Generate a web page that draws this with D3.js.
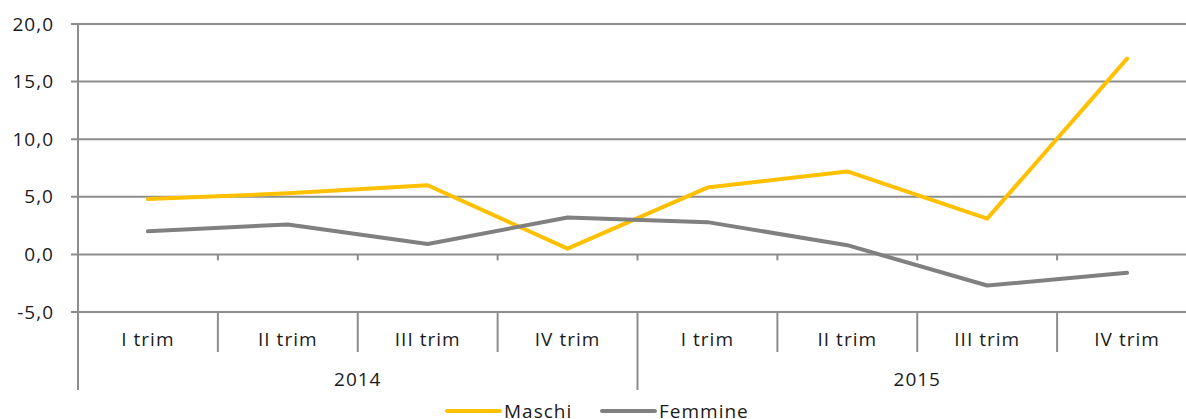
<!DOCTYPE html>
<html>
<head>
<meta charset="utf-8">
<script src="https://cdn.jsdelivr.net/npm/d3@7"></script>
<style>
  body { margin: 0; background: #fff; }
  svg { display: block; font-family: "Open Sans", sans-serif; }
  svg text { font-size: 19px; letter-spacing: 1px; fill: #1a1a1a; }
</style>
</head>
<body>
<svg id="chart" width="1186" height="419"></svg>
<script>
// dati
var quarters = ["I trim", "II trim", "III trim", "IV trim", "I trim", "II trim", "III trim", "IV trim"];
var years = ["2014", "2015"];
var maschi = [4.8, 5.3, 6.0, 0.5, 5.8, 7.2, 3.1, 17.0];
var femmine = [2.0, 2.6, 0.9, 3.2, 2.8, 0.8, -2.7, -1.6];
var yTicks = [-5, 0, 5, 10, 15, 20];

var series = [
  { name: "Maschi", values: maschi, color: "#ffc000" },
  { name: "Femmine", values: femmine, color: "#808080" }
];

var svg = d3.select("#chart");
var mLeft = 78, mRight = 1197, mTop = 24, mBottom = 312;
var gridColor = "#8c8c8c";

var x = d3.scaleBand()
  .domain(d3.range(quarters.length))
  .range([mLeft, mRight]);

var y = d3.scaleLinear()
  .domain([-5, 20])
  .range([mBottom, mTop]);

// formato italiano: virgola decimale, trattino semplice per il meno
var fmt = function (d) { return d3.format(".1f")(d).replace(".", ",").replace("\u2212", "-"); };

// griglia orizzontale
svg.append("g").selectAll("line")
  .data(yTicks)
  .enter().append("line")
  .attr("x1", mLeft - 7)
  .attr("x2", mRight)
  .attr("y1", function (d) { return y(d); })
  .attr("y2", function (d) { return y(d); })
  .attr("stroke", gridColor)
  .attr("stroke-width", 2);

// asse y
var yAxis = svg.append("g")
  .attr("transform", "translate(" + mLeft + ",0)")
  .call(d3.axisLeft(y).tickValues(yTicks).tickFormat(fmt).tickSize(0).tickPadding(24));
yAxis.select(".domain").remove();
yAxis.attr("font-size", null).attr("font-family", null);

// linea verticale dell'asse y fino sotto le etichette degli anni
svg.append("line")
  .attr("x1", mLeft).attr("x2", mLeft)
  .attr("y1", mTop).attr("y2", 390)
  .attr("stroke", gridColor).attr("stroke-width", 2);

// tacche sullo zero
svg.append("g").selectAll("line")
  .data(d3.range(1, quarters.length))
  .enter().append("line")
  .attr("x1", function (i) { return x(i); })
  .attr("x2", function (i) { return x(i); })
  .attr("y1", y(0))
  .attr("y2", y(0) + 6)
  .attr("stroke", gridColor).attr("stroke-width", 2);

// separatori di categoria sotto l'asse
svg.append("g").selectAll("line")
  .data(d3.range(1, quarters.length + 1))
  .enter().append("line")
  .attr("x1", function (i) { return i < quarters.length ? x(i) : mRight; })
  .attr("x2", function (i) { return i < quarters.length ? x(i) : mRight; })
  .attr("y1", mBottom)
  .attr("y2", function (i) { return i % 4 === 0 ? 390 : 352; })
  .attr("stroke", gridColor).attr("stroke-width", 2);

// etichette trimestri
svg.append("g").selectAll("text")
  .data(quarters)
  .enter().append("text")
  .attr("x", function (d, i) { return x(i) + x.bandwidth() / 2; })
  .attr("y", 339)
  .attr("dy", "0.35em")
  .attr("text-anchor", "middle")
  .text(function (d) { return d; });

// etichette anni
svg.append("g").selectAll("text")
  .data(years)
  .enter().append("text")
  .attr("x", function (d, i) { return (x(i * 4) + (i === 1 ? mRight : x(4))) / 2; })
  .attr("y", 379)
  .attr("dy", "0.35em")
  .attr("text-anchor", "middle")
  .text(function (d) { return d; });

// linee
var line = d3.line()
  .x(function (d, i) { return x(i) + x.bandwidth() / 2; })
  .y(function (d) { return y(d); });

svg.append("g").selectAll("path")
  .data(series)
  .enter().append("path")
  .attr("d", function (s) { return line(s.values); })
  .attr("fill", "none")
  .attr("stroke", function (s) { return s.color; })
  .attr("stroke-width", 4)
  .attr("stroke-linejoin", "round")
  .attr("stroke-linecap", "round");

// legenda
var legendX = [447, 602];
var legend = svg.append("g").selectAll("g")
  .data(series)
  .enter().append("g")
  .attr("transform", function (d, i) { return "translate(" + legendX[i] + ",411)"; });

legend.append("line")
  .attr("x1", 0).attr("x2", 53)
  .attr("stroke", function (d) { return d.color; })
  .attr("stroke-width", 4)
  .attr("stroke-linecap", "round");

legend.append("text")
  .attr("x", 57)
  .attr("dy", "0.35em")
  .text(function (d) { return d.name; });
</script>
</body>
</html>
